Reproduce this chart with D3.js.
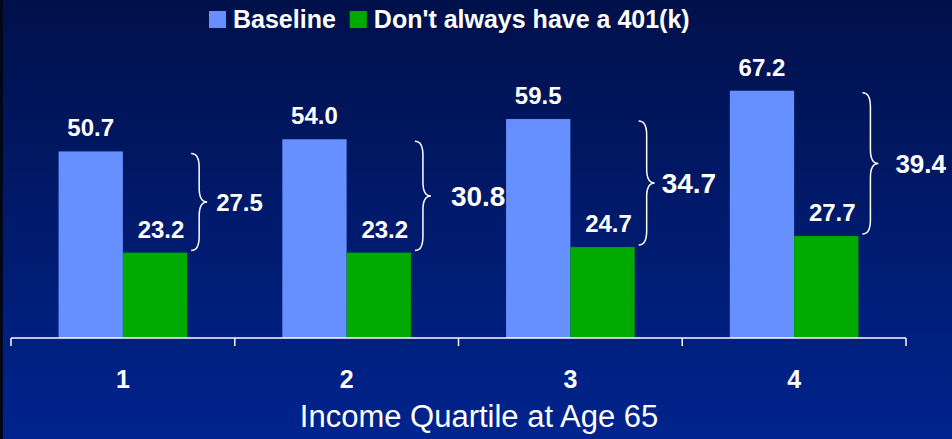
<!DOCTYPE html>
<html lang="en">
<head>
  <meta charset="UTF-8" />
  <title>Income Quartile at Age 65</title>
  <script src="https://d3js.org/d3.v7.min.js"></script>
  <style>
    html, body {
      margin: 0;
      padding: 0;
      background: #00104a;
    }
    svg {
      display: block;
      font-family: Arial, 'Liberation Sans', sans-serif;
    }
  </style>
</head>
<body>
  <div id="chart"></div>

  <script>
    // data
    const quartiles = ["1", "2", "3", "4"];
    const seriesNames = ["Baseline", "Don't always have a 401(k)"];
    const baseline = [50.7, 54.0, 59.5, 67.2];
    const no401k = [23.2, 23.2, 24.7, 27.7];
    const gaps = [27.5, 30.8, 34.7, 39.4];
    const xTitle = "Income Quartile at Age 65";

    // hand tweaks for the gap labels (layout only)
    const gapFont = [24, 28, 28, 26];
    const gapDx = [9, 20, 7, 17];

    const width = 952, height = 439;
    const colors = ["#6690ff", "#00aa00"];

    const svg = d3.select("#chart").append("svg")
      .attr("width", width)
      .attr("height", height);

    // background gradient
    const grad = svg.append("defs").append("linearGradient")
      .attr("id", "bg").attr("x1", 0).attr("y1", 0).attr("x2", 0).attr("y2", 1);
    grad.append("stop").attr("offset", "0%").attr("stop-color", "#00104a");
    grad.append("stop").attr("offset", "100%").attr("stop-color", "#00248e");
    svg.append("rect").attr("width", width).attr("height", height).attr("fill", "url(#bg)");
    svg.append("rect").attr("width", 3).attr("height", height).attr("fill", "#000818");

    const x0 = d3.scaleBand().domain(quartiles).range([11, 906]).padding(0);
    const x1 = d3.scaleBand().domain([0, 1]).range([0, x0.bandwidth()])
      .paddingInner(0).paddingOuter(0.74);
    const y = d3.scaleLinear().domain([0, 80]).range([338, 338 - 80 * 3.68]);

    const rows = quartiles.map((q, i) => ({ q, vals: [baseline[i], no401k[i]], gap: gaps[i], i }));

    const groups = svg.selectAll("g.grp")
      .data(rows).enter().append("g")
      .attr("class", "grp")
      .attr("transform", d => `translate(${x0(d.q)},0)`);

    groups.selectAll("rect")
      .data(d => d.vals.map((v, k) => ({ v, k })))
      .enter().append("rect")
      .attr("x", d => x1(d.k))
      .attr("y", d => y(d.v))
      .attr("width", x1.bandwidth())
      .attr("height", d => y(0) - y(d.v))
      .attr("fill", d => colors[d.k]);

    groups.selectAll("text.val")
      .data(d => d.vals.map((v, k) => ({ v, k })))
      .enter().append("text")
      .attr("class", "val")
      .attr("x", d => x1(d.k) + x1.bandwidth() / 2 + (d.k ? 6 : 0))
      .attr("y", d => y(d.v) - 15)
      .attr("text-anchor", "middle")
      .attr("fill", "#fff")
      .attr("font-weight", "bold")
      .attr("font-size", "24px")
      .text(d => d.v.toFixed(1));

    // curly brace showing the gap between the two bars
    function brace(bx, y1, y2, w) {
      const m = (y1 + y2) / 2, h = w / 2, r = Math.min(14, (y2 - y1) / 6);
      return `M${bx},${y1} Q${bx + h},${y1} ${bx + h},${y1 + r} L${bx + h},${m - r} ` +
        `Q${bx + h},${m} ${bx + w},${m} Q${bx + h},${m} ${bx + h},${m + r} ` +
        `L${bx + h},${y2 - r} Q${bx + h},${y2} ${bx},${y2}`;
    }

    const braceW = 16;
    groups.append("path")
      .attr("d", d => brace(x1(1) + x1.bandwidth() + 4, y(d.vals[0]) + 2, y(d.vals[1]) - 2, braceW))
      .attr("fill", "none")
      .attr("stroke", "#fff")
      .attr("stroke-width", 1.5);

    groups.append("text")
      .attr("x", d => x1(1) + x1.bandwidth() + 4 + braceW + gapDx[d.i])
      .attr("y", d => (y(d.vals[0]) + y(d.vals[1])) / 2)
      .attr("dy", "0.36em")
      .attr("fill", "#fff")
      .attr("font-weight", "bold")
      .attr("font-size", d => gapFont[d.i] + "px")
      .text(d => d.gap.toFixed(1));

    // x axis
    const axis = svg.append("g")
      .attr("transform", "translate(0,338)")
      .call(d3.axisBottom(x0).tickSize(0).tickPadding(32));
    axis.select(".domain").remove();
    axis.append("line")
      .attr("x1", 11).attr("x2", 906)
      .attr("stroke", "#fff").attr("stroke-width", 1.5);
    axis.selectAll("line.sep")
      .data([11, ...quartiles.map(q => x0(q) + x0.bandwidth())])
      .enter().append("line")
      .attr("class", "sep")
      .attr("x1", d => d).attr("x2", d => d)
      .attr("y1", 0).attr("y2", 8)
      .attr("stroke", "#fff").attr("stroke-width", 1.5);
    axis.selectAll(".tick text")
      .attr("fill", "#fff")
      .attr("font-size", "25px")
      .attr("font-weight", "bold")
      .attr("font-family", "Arial, 'Liberation Sans', sans-serif");

    svg.append("text")
      .attr("x", width / 2 + 3)
      .attr("y", 427)
      .attr("text-anchor", "middle")
      .attr("fill", "#fff")
      .attr("font-size", "31px")
      .text(xTitle);

    // legend
    const legend = svg.append("g").attr("transform", "translate(209,11)");
    let lx = 0;
    seriesNames.forEach((name, k) => {
      legend.append("rect")
        .attr("x", lx).attr("y", 0)
        .attr("width", 17).attr("height", 17)
        .attr("fill", colors[k]);
      const t = legend.append("text")
        .attr("x", lx + 24).attr("y", 17)
        .attr("fill", "#fff")
        .attr("font-weight", "bold")
        .attr("font-size", "25px")
        .text(name);
      lx += 24 + t.node().getComputedTextLength() + 14;
    });
  </script>
</body>
</html>
